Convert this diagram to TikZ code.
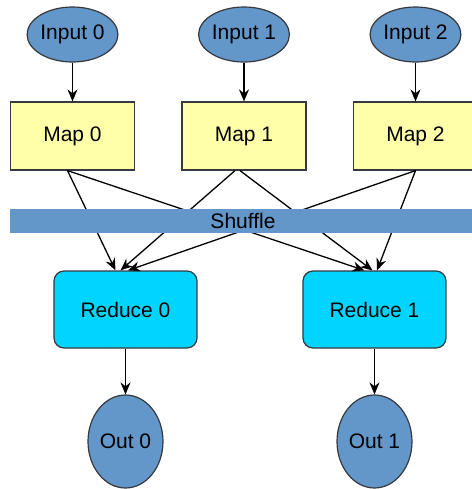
\documentclass[tikz,border=0pt]{standalone}
\usepackage{fontspec}
\setmainfont{Liberation Sans}
\usetikzlibrary{shapes.geometric,arrows.meta}
\definecolor{steel}{RGB}{99,150,201}
\definecolor{paleyellow}{RGB}{255,255,170}
\definecolor{skycyan}{RGB}{0,212,255}
\definecolor{edgegray}{RGB}{54,57,61}
\tikzset{
    every node/.style={font=\fontsize{10.5}{12.6}\selectfont},
    inp/.style={ellipse,draw=edgegray,fill=steel,line width=0.6pt,
        minimum width=40pt,minimum height=27.5pt,inner sep=0pt},
    mapbox/.style={rectangle,draw=edgegray,fill=paleyellow,line width=0.6pt,
        minimum width=62pt,minimum height=34pt},
    redbox/.style={rectangle,rounded corners=5pt,draw=edgegray,fill=skycyan,
        line width=0.6pt,minimum width=71.5pt,minimum height=38.5pt},
    outp/.style={ellipse,draw=edgegray,fill=steel,line width=0.6pt,
        minimum width=37.5pt,minimum height=46.5pt,inner sep=0pt},
    bar/.style={rectangle,fill=steel,minimum width=233pt,minimum height=12pt,inner sep=0pt},
    arr/.style={-{Stealth[length=6pt,width=5pt]},line width=0.65pt},
    link/.style={line width=0.55pt}
}

\begin{document}
\begin{tikzpicture}[x=0.5pt,y=-0.5pt]
\useasboundingbox (0,0) rectangle (472,489);
\clip (0,0) rectangle (472,489);
\foreach \i/\x in {0/72.5,1/244,2/415.5} {
    \node[inp] (in\i) at (\x,34.5) {Input \i};
    \node[mapbox] (map\i) at (\x,136) {Map \i};
    \draw[arr] (in\i) -- (map\i);
}
\foreach \j/\x in {0/125.5,1/374.5} {
    \node[redbox] (red\j) at (\x,309.5) {Reduce \j};
    \node[outp] (out\j) at (\x,441.5) {Out \j};
    \draw[arr] (red\j) -- (out\j);
}
% map -> reduce, behind the shuffle bar
\draw[arr] ([xshift=-2.5pt]map0.south) -- ([xshift=-5pt]red0.north);
\draw[arr] ([xshift=-4.5pt]map1.south) -- ([xshift=-2.5pt]red0.north);
\draw[arr] (map2.south) -- ([xshift=1.25pt]red0.north);
\draw[arr] ([xshift=-2.5pt]map0.south) -- ([xshift=-5pt]red1.north);
\draw[arr] ([xshift=-2pt]map1.south) -- ([xshift=-1pt]red1.north);
\draw[arr] (map2.south) -- ([xshift=1.25pt]red1.north);
\node[bar] (shuffle) at (243,221) {Shuffle};
\end{tikzpicture}
\end{document}
